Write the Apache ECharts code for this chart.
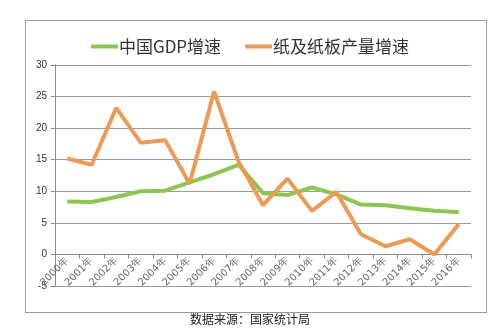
<!DOCTYPE html>
<html><head><meta charset="utf-8">
<script src="https://cdn.jsdelivr.net/npm/echarts@6/dist/echarts.min.js"></script>
<style>html,body{margin:0;padding:0;background:#fff}#c{width:500px;height:336px}</style>
</head><body><div id="c"></div>
<script>
const years = ['2000年','2001年','2002年','2003年','2004年','2005年','2006年','2007年','2008年','2009年','2010年','2011年','2012年','2013年','2014年','2015年','2016年'];
const gdpGrowth = [8.4, 8.3, 9.1, 10.0, 10.1, 11.4, 12.7, 14.2, 9.7, 9.4, 10.6, 9.5, 7.9, 7.8, 7.3, 6.9, 6.7];
const paperGrowth = [15.2, 14.2, 23.2, 17.7, 18.1, 11.2, 25.8, 14.7, 7.8, 12.0, 6.9, 9.9, 3.2, 1.3, 2.4, 0.0, 4.8];
const seriesNames = ['中国GDP增速', '纸及纸板产量增速'];
const sourceText = '数据来源：国家统计局';

const chart = echarts.init(document.getElementById('c'), null, {renderer: 'canvas'});
const font = '"Noto Sans CJK SC", "Microsoft YaHei", sans-serif';
const gridTop = 65, gridBottom = 50, plotH = 336 - gridTop - gridBottom;
const zeroOffset = -plotH * 5 / 35;
chart.setOption({
  animation: false,
  backgroundColor: '#fff',
  graphic: [
    {type: 'rect', left: 23, top: 18, shape: {width: 461, height: 292}, style: {fill: 'none', stroke: '#9a9a9a', lineWidth: 1}, silent: true},
    {type: 'text', left: 'center', top: 313, style: {text: sourceText, font: '12px ' + font, fill: '#222'}}
  ],
  legend: {
    top: 33, left: 'center', itemWidth: 27, itemHeight: 4, itemGap: 24,
    icon: 'rect',
    textStyle: {fontSize: 17, fontFamily: font, color: '#333', padding: [0,0,0,-4]},
    data: seriesNames
  },
  grid: {left: 55, right: 29, top: gridTop, bottom: gridBottom},
  xAxis: {
    type: 'category', data: years, boundaryGap: true,
    offset: zeroOffset,
    axisLine: {onZero: false, lineStyle: {color: '#8a8a8a'}},
    axisTick: {show: true, length: 4, lineStyle: {color: '#8a8a8a'}},
    axisLabel: {rotate: 45, fontSize: 10, color: '#666', fontFamily: 'DejaVu Sans, sans-serif', margin: 5, interval: 0}
  },
  yAxis: {
    type: 'value', min: -5, max: 30, interval: 5,
    axisLine: {show: true, lineStyle: {color: '#8a8a8a'}},
    axisTick: {show: true, inside: false, length: 4, lineStyle: {color: '#8a8a8a'}},
    axisLabel: {fontSize: 10, color: '#333', margin: 8},
    splitLine: {lineStyle: {color: '#9a9a9a', width: 1}}
  },
  series: [
    {name: seriesNames[0], type: 'line', data: gdpGrowth, symbol: 'none', itemStyle: {color: '#8cc652'}, lineStyle: {color: '#8cc652', width: 4}, z: 2},
    {name: seriesNames[1], type: 'line', data: paperGrowth, symbol: 'none', itemStyle: {color: '#ee9a55'}, lineStyle: {color: '#ee9a55', width: 4}, z: 3}
  ]
});
</script></body></html>
